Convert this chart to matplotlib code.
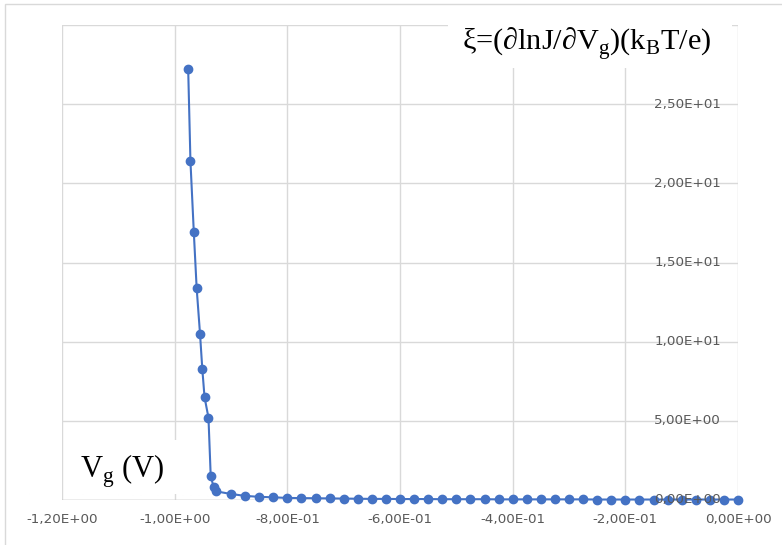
import matplotlib
matplotlib.use("Agg")
import matplotlib.pyplot as plt
from matplotlib.patches import Rectangle
from matplotlib.ticker import FuncFormatter, MultipleLocator

# Gate voltage (V) and xi values
vg = [-0.976, -0.972, -0.966, -0.961, -0.955, -0.951, -0.947, -0.940, -0.936,
      -0.931, -0.927,
      -0.900, -0.875, -0.850, -0.825, -0.800, -0.775, -0.750, -0.725, -0.700,
      -0.675, -0.650, -0.625, -0.600, -0.575, -0.550, -0.525, -0.500, -0.475,
      -0.450, -0.425, -0.400, -0.375, -0.350, -0.325, -0.300, -0.275, -0.250,
      -0.225, -0.200, -0.175, -0.150, -0.125, -0.100, -0.075, -0.050, -0.025,
      0.000]
xi = [27.2, 21.4, 16.9, 13.4, 10.5, 8.3, 6.5, 5.2, 1.5,
      0.85, 0.55,
      0.38, 0.26, 0.20, 0.17, 0.13, 0.12, 0.11, 0.10, 0.09,
      0.08, 0.07, 0.07, 0.06, 0.06, 0.06, 0.05, 0.05, 0.05,
      0.05, 0.04, 0.04, 0.04, 0.04, 0.04, 0.04, 0.04, 0.03,
      0.03, 0.03, 0.03, 0.03, 0.03, 0.03, 0.03, 0.03, 0.03,
      0.03]

y_ticks = [0, 5, 10, 15, 20, 25]
title = r"ξ=(∂lnJ/∂V$_\mathregular{g}$)(k$_\mathregular{B}$T/e)"
xlabel = r"V$_\mathregular{g}$ (V)"

BLUE = "#4472C4"
GRID = "#d9d9d9"
TICK = "#595959"
W, H = 782, 545

plt.rcParams["mathtext.fontset"] = "custom"
plt.rcParams["mathtext.rm"] = "Liberation Serif"


def sci_comma(v, pos=None):
    return f"{v:.2E}".replace(".", ",")


fig = plt.figure(figsize=(W / 100, H / 100), dpi=100)
ax = fig.add_axes([62 / W, 1 - 500 / H, 676 / W, 475 / H])

ax.plot(vg, xi, color=BLUE, lw=1.5, marker="o", ms=6, zorder=3, clip_on=False)

ax.set_xlim(-1.2, 0)
ax.set_ylim(0, 30)
ax.xaxis.set_major_locator(MultipleLocator(0.2))
ax.yaxis.set_major_locator(MultipleLocator(5))
ax.xaxis.set_major_formatter(FuncFormatter(sci_comma))
ax.set_yticklabels([])
ax.tick_params(axis="both", length=0)
ax.tick_params(axis="x", pad=9, labelsize=9.7, labelcolor=TICK)
ax.grid(True, color=GRID, lw=1.0)
ax.set_axisbelow(True)
for s in ax.spines.values():
    s.set_visible(False)
ax.axhline(0, color="#bfbfbf", lw=1.0, zorder=1)

# y labels sit to the left of the x=0 axis, on top of the markers
for v in y_ticks:
    ax.text(1 - 17 / 676, v, sci_comma(v), transform=ax.get_yaxis_transform(),
            ha="right", va="center", fontsize=9.7, color=TICK, zorder=5)

# text boxes with white fill
fig.patches.append(Rectangle((448 / W, 1 - 68 / H), 284 / W, 56 / H,
                             transform=fig.transFigure, facecolor="white",
                             edgecolor="none", zorder=2))
fig.patches.append(Rectangle((64 / W, 1 - 494 / H), 118 / W, 54 / H,
                             transform=fig.transFigure, facecolor="white",
                             edgecolor="none", zorder=2))
fig.text(462 / W, 1 - 50 / H, title, family=["Liberation Serif", "DejaVu Serif"],
         fontsize=21.8, va="baseline", ha="left", zorder=3)
fig.text(80 / W, 1 - 478 / H, xlabel, family=["Liberation Serif", "DejaVu Serif"],
         fontsize=22, va="baseline", ha="left", zorder=3)

# chart area border
fig.patches.append(Rectangle((5 / W, -0.1), 1.2, 1 - 4 / H + 0.1,
                             transform=fig.transFigure, facecolor="none",
                             edgecolor=GRID, lw=1.0, zorder=4))

fig.savefig("out.png", dpi=100)
